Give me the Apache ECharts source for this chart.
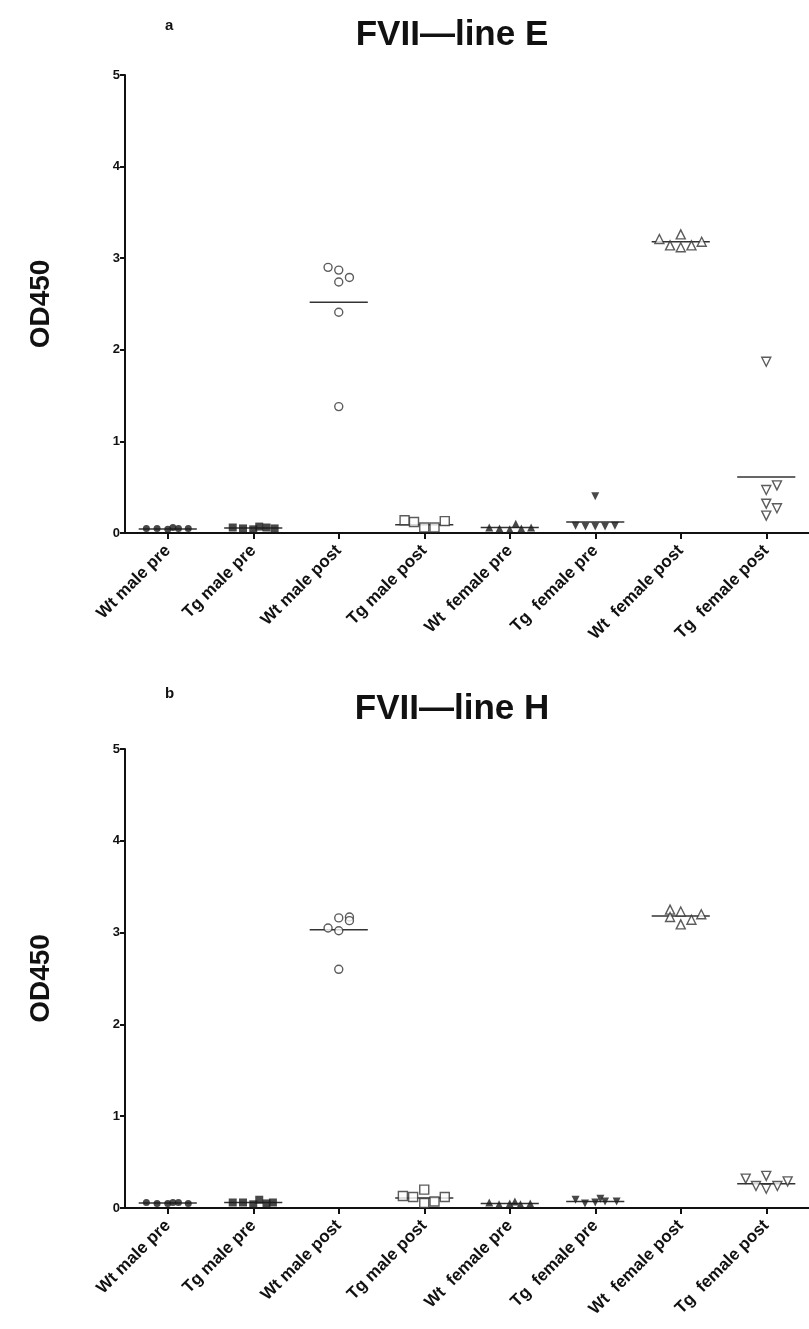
<!DOCTYPE html>
<html><head><meta charset="utf-8">
<script src="https://cdn.jsdelivr.net/npm/echarts@6/dist/echarts.min.js"></script>
<style>html,body{margin:0;padding:0;background:#fff}#c{width:809px;height:1329px}</style>
</head><body><div id="c"></div>
<script>
// ---- data ----
const categories = ["Wt male pre","Tg male pre","Wt male post","Tg male post","Wt  female pre","Tg  female pre","Wt  female post","Tg  female post"];
const yTicks = [0,1,2,3,4,5];
const titleA = "FVII\u2014line E";
const titleB = "FVII\u2014line H";
const yName = "OD450";

// panel a values (OD450) per group
const aWtMalePre    = [0.05,0.05,0.04,0.06,0.05,0.05];
const aTgMalePre    = [0.06,0.05,0.04,0.07,0.06,0.05];
const aWtMalePost   = [2.90,2.87,2.74,2.79,2.41,1.38];
const aTgMalePost   = [0.14,0.12,0.06,0.06,0.13];
const aWtFemalePre  = [0.06,0.05,0.04,0.10,0.05,0.06];
const aTgFemalePre  = [0.08,0.07,0.40,0.07,0.07,0.08];
const aWtFemalePost = [3.21,3.14,3.26,3.12,3.14,3.18];
const aTgFemalePost = [1.87,0.52,0.47,0.32,0.27,0.19];
const aMeans = [0.045,0.055,2.52,0.09,0.06,0.12,3.18,0.61];

// panel b values
const bWtMalePre    = [0.06,0.05,0.05,0.06,0.06,0.05];
const bTgMalePre    = [0.06,0.06,0.04,0.09,0.05,0.06];
const bWtMalePost   = [3.16,3.17,3.13,3.05,3.02,2.60];
const bTgMalePost   = [0.13,0.12,0.20,0.055,0.07,0.12];
const bWtFemalePre  = [0.06,0.04,0.05,0.07,0.04,0.05];
const bTgFemalePre  = [0.09,0.05,0.06,0.10,0.07,0.07];
const bWtFemalePost = [3.25,3.17,3.23,3.09,3.14,3.20];
const bTgFemalePost = [0.32,0.24,0.35,0.21,0.24,0.29];
const bMeans = [0.055,0.06,3.03,0.11,0.05,0.07,3.18,0.265];

// horizontal scatter spread within each group (category units)
const aSpread = [[-0.25,-0.125,0,0.06,0.125,0.24],[-0.24,-0.12,0,0.07,0.155,0.25],[-0.125,0,0,0.125,0,0],[-0.23,-0.12,0,0.12,0.24],[-0.24,-0.12,0,0.07,0.135,0.25],[-0.23,-0.115,0,0,0.115,0.23],[-0.25,-0.125,0,0,0.125,0.245],[0,0.125,0,0,0.125,0]];
const bSpread = [[-0.25,-0.125,0,0.06,0.125,0.24],[-0.24,-0.12,0,0.07,0.155,0.23],[0,0.125,0.125,-0.125,0,0],[-0.25,-0.13,0,0,0.12,0.24],[-0.24,-0.125,0,0.06,0.125,0.24],[-0.23,-0.12,0,0.06,0.115,0.25],[-0.125,-0.125,0,0,0.125,0.24],[-0.24,-0.12,0,0,0.13,0.25]];

const aGroups = [aWtMalePre,aTgMalePre,aWtMalePost,aTgMalePost,aWtFemalePre,aTgFemalePre,aWtFemalePost,aTgFemalePost];
const bGroups = [bWtMalePre,bTgMalePre,bWtMalePost,bTgMalePost,bWtFemalePre,bTgFemalePre,bWtFemalePost,bTgFemalePost];

// ---- styles ----
const INK = '#1a1a1a';
const markers = [
  {symbol:'circle', rot:0, filled:true, size:7},
  {symbol:'rect', rot:0, filled:true, size:8},
  {symbol:'circle', rot:0, filled:false, size:8},
  {symbol:'rect', rot:0, filled:false, size:9},
  {symbol:'triangle', rot:0, filled:true, size:8},
  {symbol:'triangle', rot:180, filled:true, size:8},
  {symbol:'triangle', rot:0, filled:false, size:9},
  {symbol:'triangle', rot:180, filled:false, size:9}
];
const FONT = '"Liberation Sans", Arial, sans-serif';

function buildSeries(groups, spread, means, xIdx, yIdx) {
  const out = [];
  groups.forEach((vals, g) => {
    const m = markers[g];
    out.push({
      type:'scatter', xAxisIndex:xIdx, yAxisIndex:yIdx,
      symbol:m.symbol, symbolRotate:m.rot, symbolSize:m.size,
      itemStyle: m.filled ? {color:INK} : {color:'#fff', borderColor:'#333', borderWidth:1.4},
      data: vals.map((v,i)=>[g+1+spread[g][i], v]),
      z:3
    });
  });
  out.push({
    type:'custom', xAxisIndex:xIdx, yAxisIndex:yIdx, z:2,
    data: means.map((v,g)=>[g+1, v]),
    renderItem: function(params, api){
      const p = api.coord([api.value(0), api.value(1)]);
      const w = api.size([0.34, 0])[0];
      return {type:'line', shape:{x1:p[0]-w, y1:p[1], x2:p[0]+w, y2:p[1]}, style:{stroke:'#333', lineWidth:1.5}};
    }
  });
  return out;
}

function valueX(gi){ return {type:'value', gridIndex:gi, min:0.5, max:8.5, show:false}; }
function catX(gi){
  return {type:'category', gridIndex:gi, data:categories, boundaryGap:true, position:'bottom',
    axisLine:{show:true, lineStyle:{color:'#111', width:2}},
    axisTick:{show:true, alignWithLabel:true, length:6, lineStyle:{color:'#111', width:2}},
    axisLabel:{rotate:45, interval:0, margin:15, fontSize:17, fontWeight:'bold', color:'#111', fontFamily:FONT},
    splitLine:{show:false}};
}
function yAx(gi){
  return {type:'value', gridIndex:gi, min:yTicks[0], max:yTicks[yTicks.length-1], interval:1,
    name:yName, nameLocation:'middle', nameGap:70, nameRotate:90,
    nameTextStyle:{fontSize:28, fontWeight:'bold', color:'#111', fontFamily:FONT},
    axisLine:{show:true, lineStyle:{color:'#111', width:2}},
    axisTick:{show:true, length:5, lineStyle:{color:'#111', width:2}},
    axisLabel:{margin:5, fontSize:13, fontWeight:'bold', color:'#111', fontFamily:FONT},
    splitLine:{show:false}};
}

const chart = echarts.init(document.getElementById('c'), null, {renderer:'canvas'});
chart.setOption({
  animation:false,
  backgroundColor:'#fff',
  title:[
    {text:'a', left:160, top:13, textStyle:{fontSize:15, fontWeight:'bold', color:'#111', fontFamily:FONT}},
    {text:titleA, left:447, top:13, textAlign:'center', textStyle:{fontSize:35, fontWeight:'bold', color:'#111', fontFamily:FONT}},
    {text:'b', left:160, top:681, textStyle:{fontSize:15, fontWeight:'bold', color:'#111', fontFamily:FONT}},
    {text:titleB, left:447, top:687, textAlign:'center', textStyle:{fontSize:35, fontWeight:'bold', color:'#111', fontFamily:FONT}}
  ],
  grid:[
    {left:125, top:75, width:689, height:458},
    {left:125, top:749, width:689, height:459}
  ],
  xAxis:[valueX(0), catX(0), valueX(1), catX(1)],
  yAxis:[yAx(0), yAx(1)],
  series:[].concat(buildSeries(aGroups,aSpread,aMeans,0,0), buildSeries(bGroups,bSpread,bMeans,2,1))
});
</script></body></html>
